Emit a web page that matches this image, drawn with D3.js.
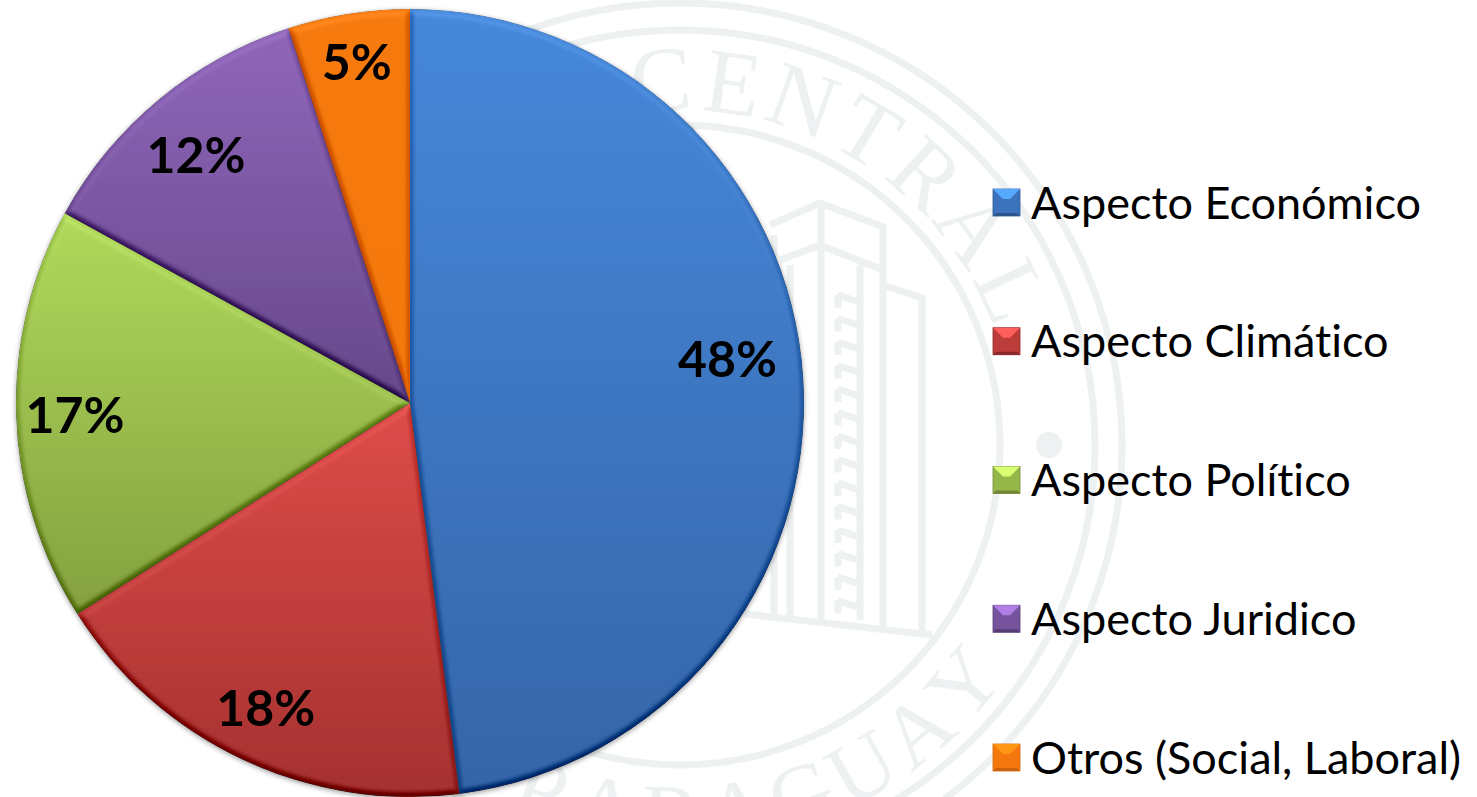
<!DOCTYPE html>
<html>
<head>
<meta charset="utf-8">
<script src="https://cdn.jsdelivr.net/npm/d3@7"></script>
<style>
  html, body { margin: 0; padding: 0; background: #fff; overflow: hidden; }
  svg { display: block; }
  text { font-family: Lato, "Open Sans", sans-serif; fill: #000; font-variant-ligatures: none; }
</style>
</head>
<body>
<div id="chart"></div>
<script>
const categories = ['Aspecto Económico', 'Aspecto Climático', 'Aspecto Político', 'Aspecto Juridico', 'Otros (Social, Laboral)']
const values = [48, 18, 17, 12, 5]
const topColors = ['#4688da', '#de4c49', '#b0d95b', '#8f66ba', '#f67a10']
const bottomColors = ['#3565a8', '#a53130', '#83a03f', '#66488a', '#f4760e']
// label offsets from the slice centroid, the original chart placed them by hand
const labelNudge = [[3, -25], [-10, 19], [-20, 1], [-13, -6], [-4, -31]]

const width = 1477
const height = 797
const center = {x: 410, y: 403}
const radius = 394

const svg = d3.select('#chart').append('svg')
    .attr('width', width)
    .attr('height', height)
const defs = svg.append('defs')

// watermark behind the chart
const mark = {x: 680, y: 445, color: '#edf1f2'}
const seal = svg.append('g').attr('class', 'seal')

const ringRadii = [442, 415, 320]
seal.selectAll('circle.ring')
    .data(ringRadii)
    .enter().append('circle')
    .attr('class', 'ring')
    .attr('cx', mark.x)
    .attr('cy', mark.y)
    .attr('r', d => d)
    .style('fill', 'none')
    .style('stroke', mark.color)
    .style('stroke-width', 7)

seal.append('circle')
    .attr('cx', 1049)
    .attr('cy', 445)
    .attr('r', 13)
    .style('fill', mark.color)

const topLetters = 'CENTRAL'.split('')
const topAngle = d3.scalePoint().domain(d3.range(topLetters.length)).range([-3, 65])
seal.selectAll('text.top')
    .data(topLetters)
    .enter().append('text')
    .attr('class', 'top')
    .attr('transform', (d, i) => `translate(${mark.x},${mark.y}) rotate(${topAngle(i)}) translate(0,-335)`)
    .attr('text-anchor', 'middle')
    .style('font-family', '"Liberation Serif", serif')
    .style('font-size', '92px')
    .style('fill', mark.color)
    .text(d => d)

const bottomLetters = 'PARAGUAY'.split('')
const bottomAngle = d3.scalePoint().domain(d3.range(bottomLetters.length)).range([-22, 50])
seal.selectAll('text.bottom')
    .data(bottomLetters)
    .enter().append('text')
    .attr('class', 'bottom')
    .attr('transform', (d, i) => `translate(${mark.x},${mark.y}) rotate(${-bottomAngle(i)}) translate(0,400)`)
    .attr('text-anchor', 'middle')
    .style('font-family', '"Liberation Serif", serif')
    .style('font-size', '88px')
    .style('fill', mark.color)
    .text(d => d)

// building outline
const buildingLines = [
    [[770, 225], [820, 203], [883, 227], [883, 632]],
    [[780, 260], [820, 245], [883, 270]],
    [[883, 285], [922, 298], [922, 636]],
    [[745, 614], [932, 635]],
    [[821, 203], [821, 622]],
    [[790, 265], [790, 618]],
    [[774, 235], [774, 616]],
    [[860, 265], [860, 620]]
]
const line = d3.line()
seal.selectAll('path.building')
    .data(buildingLines)
    .enter().append('path')
    .attr('class', 'building')
    .attr('d', d => line(d))
    .style('fill', 'none')
    .style('stroke', mark.color)
    .style('stroke-width', 7)

// the little steps on the tower
const steps = d3.range(295, 620, 23.5)
seal.selectAll('path.step')
    .data(steps)
    .enter().append('path')
    .attr('class', 'step')
    .attr('d', d => `M838,${d}L862,${d + 8}M838,${d}v13`)
    .style('fill', 'none')
    .style('stroke', mark.color)
    .style('stroke-width', 7)

// one vertical gradient per slice, y is relative to the pie center
const gradTop = [-394, 0, -190, -375, -394]
const gradBottom = [394, 394, 215, 0, 394]
values.forEach((v, i) => {
    const g = defs.append('linearGradient')
        .attr('id', 'grad' + i)
        .attr('gradientUnits', 'userSpaceOnUse')
        .attr('x1', 0).attr('x2', 0)
        .attr('y1', gradTop[i])
        .attr('y2', gradBottom[i])
    g.append('stop').attr('offset', '0%').attr('stop-color', topColors[i])
    g.append('stop').attr('offset', '100%').attr('stop-color', bottomColors[i])
})

// bevel on every slice, lit from the top
// filter regions are in the pie's own coordinates, so they have to reach past the center
const bevel = defs.append('filter')
    .attr('id', 'bevel')
    .attr('filterUnits', 'userSpaceOnUse')
    .attr('x', -center.x).attr('y', -center.y).attr('width', width).attr('height', height)
    .attr('color-interpolation-filters', 'sRGB')
bevel.append('feGaussianBlur')
    .attr('in', 'SourceAlpha')
    .attr('stdDeviation', 3)
    .attr('result', 'bump')
const light = bevel.append('feDiffuseLighting')
    .attr('in', 'bump')
    .attr('surfaceScale', 6)
    .attr('diffuseConstant', 0.58)
    .attr('lighting-color', '#fff')
    .attr('result', 'lit')
light.append('feDistantLight').attr('azimuth', 270).attr('elevation', 60)
bevel.append('feComposite')
    .attr('in', 'SourceGraphic')
    .attr('in2', 'lit')
    .attr('operator', 'arithmetic')
    .attr('k1', 0).attr('k2', 1).attr('k3', 0.6).attr('k4', -0.3)
    .attr('result', 'mix')
bevel.append('feComposite')
    .attr('in', 'mix')
    .attr('in2', 'SourceAlpha')
    .attr('operator', 'in')

const shadow = defs.append('filter')
    .attr('id', 'shadow')
    .attr('filterUnits', 'userSpaceOnUse')
    .attr('x', -center.x).attr('y', -center.y).attr('width', width).attr('height', height)
shadow.append('feDropShadow')
    .attr('dx', 0).attr('dy', 1.5)
    .attr('stdDeviation', 2.5)
    .attr('flood-color', '#000')
    .attr('flood-opacity', 0.4)

const pie = d3.pie().sort(null).value(d => d)
const arc = d3.arc().innerRadius(0).outerRadius(radius)
const labelArc = d3.arc().innerRadius(radius * 0.8).outerRadius(radius * 0.8)
const slices = pie(values)

const plot = svg.append('g')
    .attr('transform', `translate(${center.x}, ${center.y})`)
    .attr('filter', 'url(#shadow)')

plot.selectAll('path')
    .data(slices)
    .enter().append('path')
    .attr('d', arc)
    .attr('fill', (d, i) => `url(#grad${i})`)
    .attr('filter', 'url(#bevel)')

svg.append('g')
    .attr('transform', `translate(${center.x}, ${center.y})`)
    .selectAll('text')
    .data(slices)
    .enter().append('text')
    .attr('x', (d, i) => labelArc.centroid(d)[0] + labelNudge[i][0])
    .attr('y', (d, i) => labelArc.centroid(d)[1] + labelNudge[i][1])
    .attr('text-anchor', 'middle')
    .attr('dominant-baseline', 'central')
    .style('font-size', '50px')
    .style('font-weight', 700)
    .text(d => d.data + '%')

// legend
const legendY = d3.scalePoint().domain(categories).range([202.5, 757.5])
const swatch = 27
const legend = svg.append('g')
    .selectAll('g')
    .data(categories)
    .enter().append('g')
    .attr('transform', d => `translate(993, ${legendY(d)})`)

legend.append('rect')
    .attr('x', 0)
    .attr('y', -swatch / 2)
    .attr('width', swatch)
    .attr('height', swatch)
    .attr('fill', (d, i) => d3.interpolateRgb(topColors[i], bottomColors[i])(0.6))
    .attr('stroke', (d, i) => d3.color(bottomColors[i]).darker(0.4))
    .attr('stroke-width', 0.8)

// top and bottom facets of the little pyramid
legend.append('path')
    .attr('d', `M0,${-swatch / 2}h${swatch}l-10,10h-7z`)
    .attr('fill', (d, i) => d3.color(topColors[i]).brighter(0.6))
legend.append('path')
    .attr('d', `M0,${swatch / 2}h${swatch}l-3,-3h${-swatch + 6}z`)
    .attr('fill', (d, i) => d3.color(bottomColors[i]).darker(0.5))

legend.append('text')
    .attr('x', 38)
    .attr('y', -1)
    .attr('dominant-baseline', 'central')
    .style('font-size', '45px')
    .text(d => d)
</script>
</body>
</html>
